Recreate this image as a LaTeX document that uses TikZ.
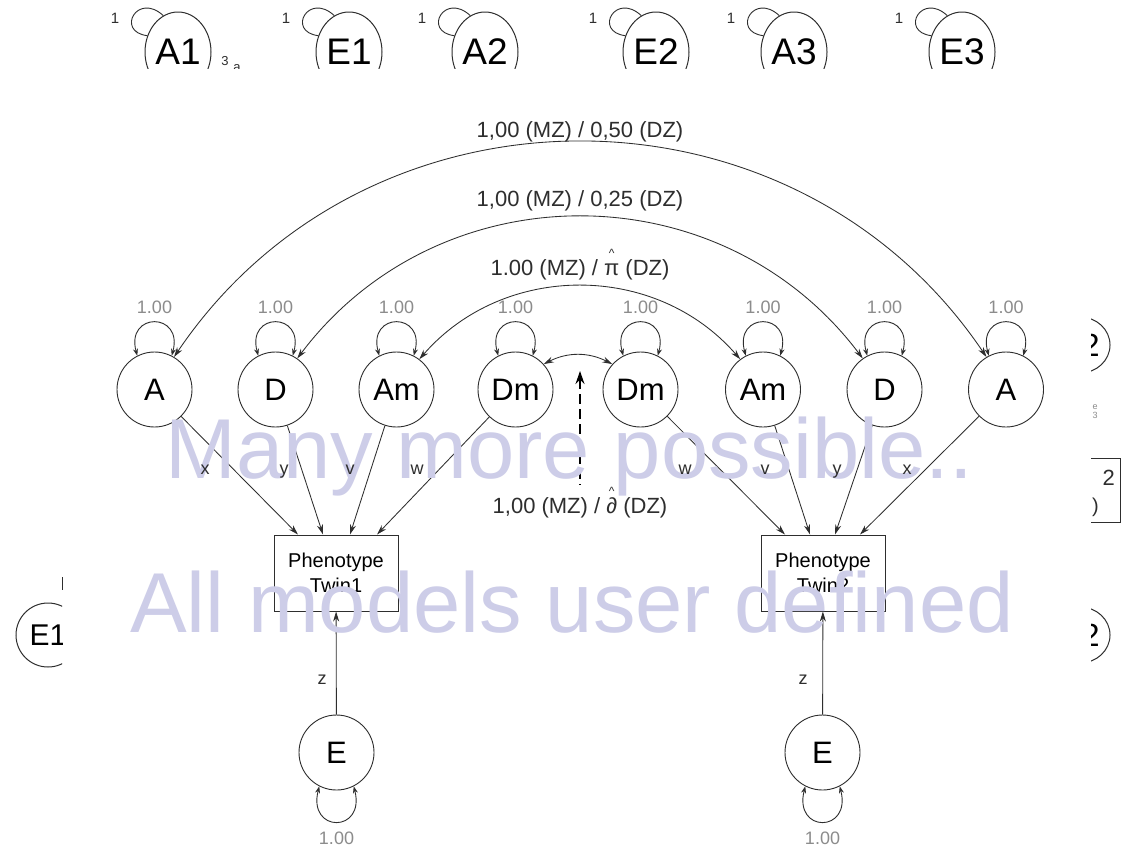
\documentclass[tikz,border=0pt]{standalone}
\usepackage{fontspec}
\setmainfont{Liberation Sans}
\usetikzlibrary{arrows.meta,shapes.geometric}
\definecolor{ink}{HTML}{2E2E2E}
\definecolor{softgray}{HTML}{8C8C8C}
\definecolor{wmlilac}{RGB}{205,205,232}
% a symbol with a small caret set above it
\newcommand\capped[1]{\leavevmode\setbox0\hbox{#1}\rlap{\hbox to\wd0{\hss\raisebox{0.8em}{\fontsize{12}{12}\selectfont\char"005E}\hss}}\box0{}}
\begin{document}
\begin{tikzpicture}[x=1pt,y=-1pt,
  latent/.style={circle,draw=ink,line width=0.9pt,minimum size=75pt,inner sep=0pt,font=\fontsize{31}{31}\selectfont},
  pheno/.style={rectangle,draw=ink,line width=1pt,minimum width=124pt,minimum height=76pt,inner sep=0pt,align=center,font=\fontsize{20}{25}\selectfont},
  topvar/.style={ellipse,draw=ink,line width=1pt,minimum width=66pt,minimum height=80pt,inner sep=0pt,font=\fontsize{37}{37}\selectfont},
  causal/.style={draw=ink,line width=0.85pt,-{Stealth[length=10pt,width=6pt]}},
  covar/.style={draw=ink,line width=0.85pt,{Stealth[length=10pt,width=6pt]}-{Stealth[length=10pt,width=6pt]}},
  selfloop/.style={draw=ink,line width=0.9pt,{Stealth[length=7pt,width=5pt]}-{Stealth[length=7pt,width=5pt]}},
  arclbl/.style={inner sep=0pt,anchor=base,font=\fontsize{22}{22}\selectfont,text=ink},
  varlbl/.style={inner sep=0pt,font=\fontsize{18}{18}\selectfont,text=softgray},
  edgelbl/.style={inner sep=0pt,anchor=base,font=\fontsize{18}{18}\selectfont,text=ink},
  wm/.style={inner sep=0pt,anchor=base west,font=\fontsize{85}{85}\selectfont,text=wmlilac}]

\useasboundingbox (0,0) rectangle (1121,849);
\fill[white] (0,0) rectangle (1121,849);

% ---------- strip of variables along the top edge ----------
\begin{scope}
  \clip (0,0) rectangle (1121,68);
  \foreach \n/\cx/\t in {tA1/178/A1, tE1/349/E1, tA2/485/A2, tE2/656/E2, tA3/794/A3, tE3/962/E3}{
    \node[topvar] (\n) at (\cx,52) {\t};
    \draw[ink,line width=0.9pt] (\n.152) .. controls +(-32,-4) and +(-26,-24) .. (\n.112);
    \node[inner sep=0pt,font=\fontsize{15}{15}\selectfont,text=ink] at (\cx-63,18) {1};
  }
  \node[inner sep=0pt,font=\fontsize{13}{13}\selectfont,text=ink] at (225,61) {3};
  \node[inner sep=0pt,font=\fontsize{13}{13}\selectfont,text=ink] at (237,68) {a};
  \draw[ink,line width=0.9pt] (tE1.-40) -- +(14,12);
\end{scope}

% ---------- latent factors of both twins ----------
\node[latent] (aL)  at (154.5,389.5) {A};
\node[latent] (dL)  at (275.5,389.5) {D};
\node[latent] (amL) at (396.5,389.5) {Am};
\node[latent] (dmL) at (515.5,389.5) {Dm};
\node[latent] (dmR) at (640.5,389.5) {Dm};
\node[latent] (amR) at (763,389.5) {Am};
\node[latent] (dR)  at (884.5,389.5) {D};
\node[latent] (aR)  at (1006,389.5) {A};

\node[pheno] (p1) at (336,573) {Phenotype\\Twin1};
\node[pheno] (p2) at (823,573) {Phenotype\\Twin2};

\node[latent] (e1) at (336.5,752.5) {E};
\node[latent] (e2) at (822.5,752.5) {E};

% variances of the factors
\foreach \n in {aL,dL,amL,dmL,dmR,amR,dR,aR}{
  \draw[selfloop] (\n.117) .. controls +(-12,-44) and +(12,-44) .. (\n.63);
  \node[varlbl] at ([yshift=82.5pt]\n.center) {1.00};
}
\foreach \n in {e1,e2}{
  \draw[selfloop] (\n.243) .. controls +(-12,47) and +(12,47) .. (\n.297);
  \node[varlbl] at ([yshift=-85.5pt]\n.center) {1.00};
}

% covariances between the twins
\draw[covar] (aL.59)  to[bend left=56,looseness=1.09] (aR.121);
\draw[covar] (dL.55)  to[bend left=53,looseness=1.07] (dR.125);
\draw[covar] (amL.53) to[bend left=49,looseness=1.03] (amR.127);
\draw[covar] (dmL.42) to[bend left=27] (dmR.138);

\node[arclbl] (lblA)  at (580,137) {1,00 (MZ) / 0,50 (DZ)};
\node[arclbl] (lblD)  at (580,206) {1,00 (MZ) / 0,25 (DZ)};
\node[arclbl] (lblAm) at (580,275) {1.00 (MZ) / \capped{π} (DZ)};
\node[arclbl] (lblDm) at (580,513) {1,00 (MZ) / \capped{∂} (DZ)};
\coordinate (dmTip) at (580,371);
\draw[black,line width=1.3pt,dash pattern=on 10pt off 5pt,{Stealth[length=13pt,width=9pt]}-,shorten >=2pt] (dmTip) -- (lblDm.north);

% factor loadings onto the phenotypes
\draw[causal] (aL)  -- ([xshift=-38pt]p1.north);
\draw[causal] (dL)  -- ([xshift=-13pt]p1.north);
\draw[causal] (amL) -- ([xshift=14pt]p1.north);
\draw[causal] (dmL) -- ([xshift=41pt]p1.north);
\draw[causal] (dmR) -- ([xshift=-38pt]p2.north);
\draw[causal] (amR) -- ([xshift=-13pt]p2.north);
\draw[causal] (dR)  -- ([xshift=12pt]p2.north);
\draw[causal] (aR)  -- ([xshift=37pt]p2.north);
\draw[causal] (e1) -- (p1);
\draw[causal] (e2) -- (p2);

% ---------- pieces showing at the left and right edges ----------
\begin{scope}
  \clip (0,560) rectangle (62,700);
  \node[ellipse,draw=ink,line width=1pt,minimum width=64pt,minimum height=64pt,inner sep=0pt,font=\fontsize{30}{30}\selectfont] (eLeft) at (48,635) {E1};
\end{scope}
\draw[ink,line width=0.8pt] (62,577) -- (62,590);

\begin{scope}
  \clip (1091,0) rectangle (1121,849);
  \node[ellipse,draw=ink,line width=1pt,minimum width=60pt,minimum height=56pt,inner sep=0pt,font=\fontsize{32}{32}\selectfont] (rTop) at (1080,345) {E2};
  \node[ellipse,draw=ink,line width=1pt,minimum width=60pt,minimum height=56pt,inner sep=0pt,font=\fontsize{32}{32}\selectfont] (rBot) at (1080,635) {E2};
  \node[rectangle,draw=ink,line width=1pt,minimum width=80pt,minimum height=64pt,inner sep=0pt] (rBox) at (1080,490) {};
  \node[inner sep=0pt,anchor=east,font=\fontsize{22}{22}\selectfont,text=ink] at (1115,478) {2};
  \node[inner sep=0pt,anchor=east,font=\fontsize{20}{20}\selectfont,text=ink] at (1099,507) {)};
  \node[inner sep=0pt,align=center,font=\fontsize{9}{9}\selectfont,text=softgray] at (1095,412) {e\\3};
\end{scope}

% ---------- overprinted notes ----------
\node[wm] at (165,478) {Many more possible..};
\node[wm] at (130,632) {All models user defined};

% path labels, legible above the notes
\node[edgelbl] at (205,474) {x};
\node[edgelbl] at (284,474) {y};
\node[edgelbl] at (350,474) {v};
\node[edgelbl] at (417,474) {w};
\node[edgelbl] at (685,474) {w};
\node[edgelbl] at (765,474) {v};
\node[edgelbl] at (837,474) {y};
\node[edgelbl] at (907,474) {x};
\node[edgelbl] at (322,684) {z};
\node[edgelbl] at (803,684) {z};
\end{tikzpicture}
\end{document}
